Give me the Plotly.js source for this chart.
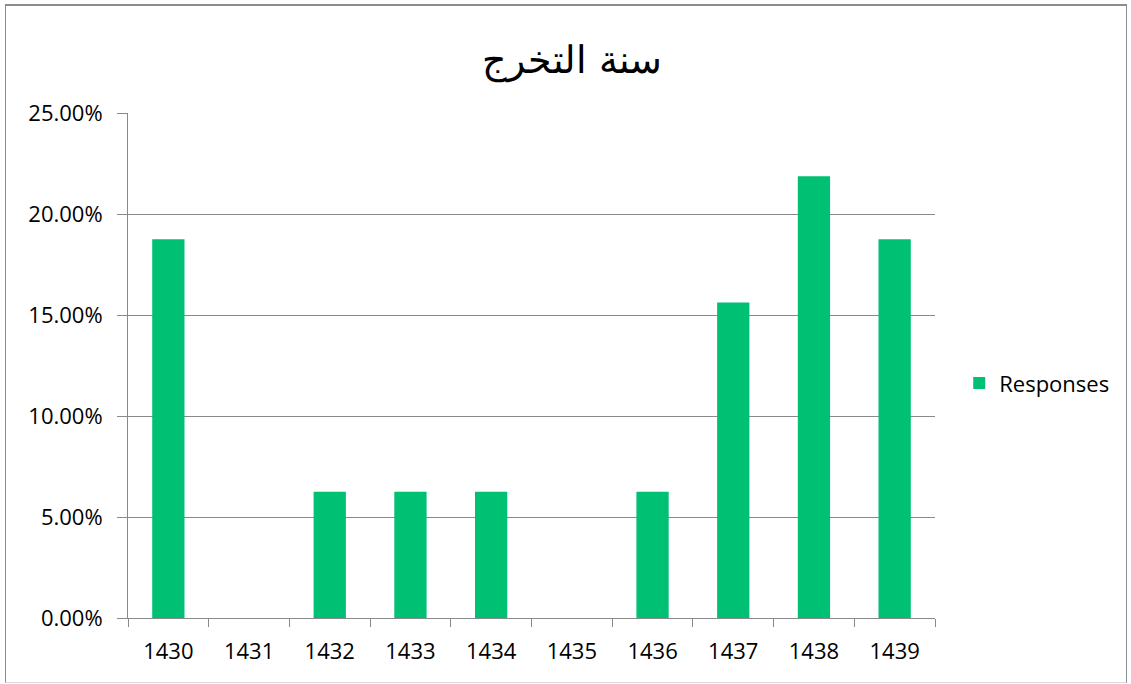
<!DOCTYPE html>
<html>
<head>
<meta charset="utf-8">
<script src="https://cdn.plot.ly/plotly-3.0.1.min.js"></script>
<style>
html,body{margin:0;padding:0;background:#fff;}
#chart{width:1131px;height:684px;}
#frame{position:absolute;left:5px;top:4px;width:1122px;height:679px;border:1px solid #8c8c8c;border-top:2px solid #8c8c8c;box-sizing:border-box;pointer-events:none;border-bottom:1px solid #d9d9d9;}
</style>
</head>
<body>
<div id="chart"></div>
<div id="frame"></div>
<script>
var years = ['1430','1431','1432','1433','1434','1435','1436','1437','1438','1439'];
var responses = [0.1875, 0, 0.0625, 0.0625, 0.0625, 0, 0.0625, 0.15625, 0.21875, 0.1875];
var seriesName = 'Responses';
var chartTitle = 'سنة التخرج';

var font = 'Open Sans, Lato, sans-serif';
var trace = {
  type: 'bar',
  x: years,
  y: responses,
  name: seriesName,
  marker: {color: 'rgb(0,192,115)'},
  showlegend: true
};
var layout = {
  width: 1131, height: 684,
  margin: {l: 128, r: 196, t: 113, b: 66},
  paper_bgcolor: '#fff', plot_bgcolor: '#fff',
  bargap: 0.6,
  title: {text: chartTitle, x: 0.506, xref: 'container', y: 0.913, yanchor: 'middle',
          font: {family: 'DejaVu Sans, sans-serif', size: 38, color: '#000', weight: 300}},
  xaxis: {type: 'category', showline: true, linecolor: '#898989', linewidth: 1,
          ticks: 'outside', tickson: 'boundaries', ticklen: 8, tickcolor: '#898989',
          ticklabelstandoff: 14,
          showgrid: false, tickfont: {family: font, size: 22, color: '#000'}},
  yaxis: {range: [0, 0.25], dtick: 0.05, tickformat: '.2%', showline: true,
          linecolor: '#898989', linewidth: 1, ticks: 'outside', ticklen: 10,
          ticklabelstandoff: 10,
          tickcolor: '#898989', gridcolor: '#898989', gridwidth: 1, zeroline: false,
          tickfont: {family: font, size: 22, color: '#000'}},
  legend: {x: 1.03, xanchor: 'left', y: 0.465, yanchor: 'middle',
           font: {family: font, size: 22, color: '#000'}, itemwidth: 30}
};
Plotly.newPlot('chart', [trace], layout, {displayModeBar: false, staticPlot: true});
</script>
</body>
</html>
